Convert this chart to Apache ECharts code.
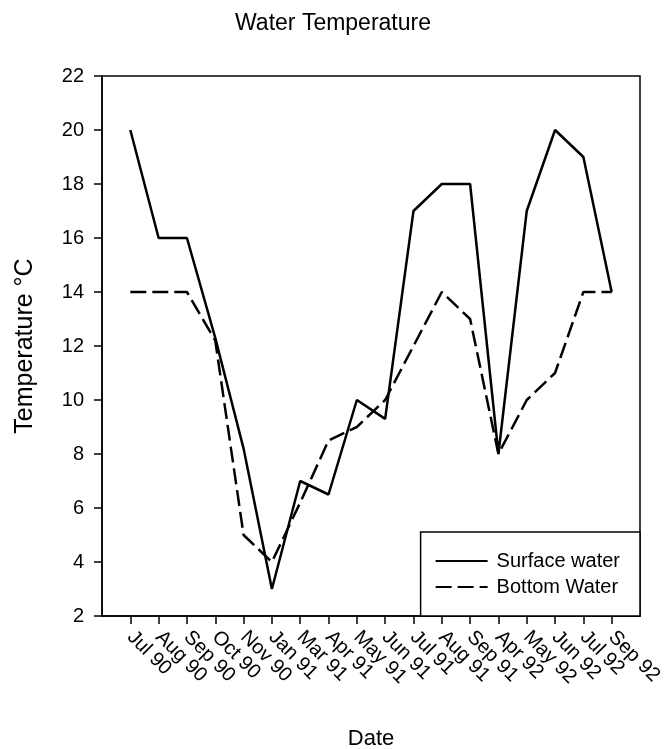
<!DOCTYPE html>
<html>
<head>
<meta charset="utf-8">
<script src="https://cdn.jsdelivr.net/npm/echarts@6/dist/echarts.min.js"></script>
<style>
html,body{margin:0;padding:0;background:#fff;}
#chart{width:664px;height:749px;}
</style>
</head>
<body>
<div id="chart"></div>
<script>
var categories = ['Jul 90','Aug 90','Sep 90','Oct 90','Nov 90','Jan 91','Mar 91','Apr 91','May 91','Jun 91','Jul 91','Aug 91','Sep 91','Apr 92','May 92','Jun 92','Jul 92','Sep 92'];
var surfaceWater = [20, 16, 16, 12.3, 8.2, 3, 7, 6.5, 10, 9.3, 17, 18, 18, 8, 17, 20, 19, 14];
var bottomWater  = [14, 14, 14, 12.2, 5, 4, 6.2, 8.5, 9, 10, 12, 14, 13, 8, 10, 11, 14, 14];
var yTicks = [2, 4, 6, 8, 10, 12, 14, 16, 18, 20, 22];

var FONT = '"Liberation Sans", Arial, sans-serif';
var chart = echarts.init(document.getElementById('chart'), null, {renderer: 'canvas'});

function pairs(arr) { return arr.map(function (v, i) { return [i, v]; }); }
var idx = categories.map(function (c, i) { return i; });

chart.setOption({
  animation: false,
  backgroundColor: '#ffffff',
  title: {
    text: 'Water Temperature',
    left: 328, top: 7, textAlign: 'center',
    textStyle: {fontFamily: FONT, fontSize: 23, fontWeight: 'normal', color: '#000'}
  },
  grid: {
    left: 102, right: 24, top: 76, bottom: 133,
    show: true, borderColor: '#000', borderWidth: 1.5, backgroundColor: 'transparent',
    outerBoundsMode: 'none', containLabel: false
  },
  legend: {
    orient: 'vertical',
    right: 24, bottom: 133,
    data: ['Surface water', 'Bottom Water'],
    itemWidth: 52, itemHeight: 14, itemGap: 6,
    padding: [19, 20, 19, 14],
    backgroundColor: '#fff',
    borderColor: '#000', borderWidth: 1.5, borderRadius: 0,
    itemStyle: {opacity: 0},
    textStyle: {fontFamily: FONT, fontSize: 20, color: '#000', padding: [0, 0, 0, 4]}
  },
  xAxis: {
    type: 'value', min: -1, max: 18, interval: 1,
    name: 'Date', nameLocation: 'middle', nameGap: 112,
    nameTextStyle: {fontFamily: FONT, fontSize: 22, color: '#000'},
    splitLine: {show: false},
    axisLine: {show: true, onZero: false, lineStyle: {color: '#000', width: 1.5}},
    axisTick: {show: true, length: 8, lineStyle: {color: '#000', width: 1.5}, customValues: idx},
    axisLabel: {
      rotate: -45, margin: 18, fontFamily: FONT, fontSize: 20, color: '#000',
      customValues: idx,
      formatter: function (v) { return categories[v] || ''; }
    }
  },
  yAxis: {
    type: 'value', min: 2, max: 22, interval: 2,
    name: 'Temperature °C', nameLocation: 'middle', nameGap: 64,
    nameTextStyle: {fontFamily: FONT, fontSize: 25, color: '#000'},
    splitLine: {show: false},
    axisLine: {show: true, onZero: false, lineStyle: {color: '#000', width: 1.5}},
    axisTick: {show: true, length: 8, lineStyle: {color: '#000', width: 1.5}},
    axisLabel: {margin: 18, fontFamily: FONT, fontSize: 20, color: '#000',
      customValues: yTicks}
  },
  series: [
    {
      name: 'Surface water', type: 'line', data: pairs(surfaceWater),
      symbol: 'none', lineStyle: {color: '#000', width: 2.5, type: 'solid'},
      itemStyle: {color: '#000'}
    },
    {
      name: 'Bottom Water', type: 'line', data: pairs(bottomWater),
      symbol: 'none', lineStyle: {color: '#000', width: 2.5, type: [16, 6]},
      itemStyle: {color: '#000'}
    }
  ]
});
</script>
</body>
</html>
